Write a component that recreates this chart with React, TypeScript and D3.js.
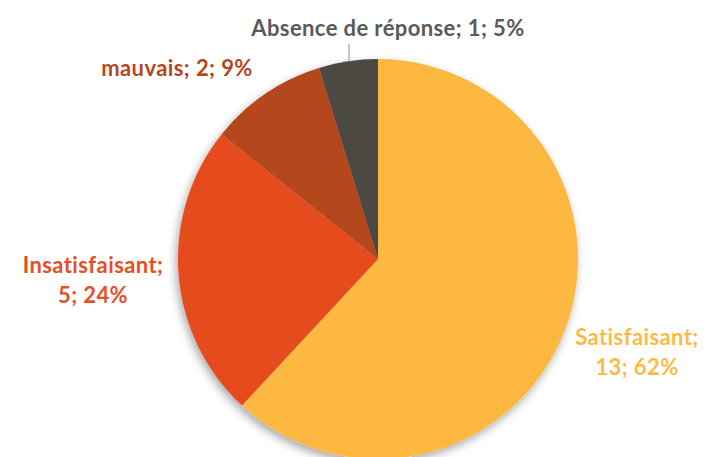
import React from "react";
import * as d3 from "d3";

const categories = ["Satisfaisant", "Insatisfaisant", "mauvais", "Absence de réponse"];
const values = [13, 5, 2, 1];
const percents = ["62%", "24%", "9%", "5%"];
const sliceColors = ["#FDB843", "#E54B1F", "#B5461F", "#4B4842"];
const labelColors = ["#FDBA45", "#E84E24", "#B5461F", "#5A5A5A"];

export default function App() {
  const W = 709, H = 457;
  const cx = 378, cy = 259, r = 200;
  const pie = d3.pie<number>().sort(null).value((d) => d);
  const arcs = pie(values);
  const arc = d3.arc<d3.PieArcDatum<number>>().innerRadius(0).outerRadius(r);
  const font = "Lato, 'Open Sans', sans-serif";
  const fs = 22;
  return (
    <svg width={W} height={H} style={{ position: "absolute", left: 0, top: 0 }}>
      <defs>
        <filter id="sh" x="-20%" y="-20%" width="140%" height="140%">
          <feGaussianBlur in="SourceAlpha" stdDeviation="5" />
          <feOffset dx="-2" dy="4" result="b" />
          <feComponentTransfer>
            <feFuncA type="linear" slope="0.35" />
          </feComponentTransfer>
          <feMerge>
            <feMergeNode />
            <feMergeNode in="SourceGraphic" />
          </feMerge>
        </filter>
      </defs>
      <rect width={W} height={H} fill="#fff" />
      <g transform={`translate(${cx},${cy})`} filter="url(#sh)">
        {arcs.map((a, i) => (
          <path key={i} d={arc(a) || ""} fill={sliceColors[i]} />
        ))}
      </g>
      <line x1={349} y1={44} x2={349} y2={62} stroke="#8a8a8a" strokeWidth={1} />
      <g fontFamily={font} fontWeight="bold" fontSize={fs} letterSpacing={0.4} style={{ fontVariantLigatures: "none" }}>
        <text x={388} y={36} textAnchor="middle" fill={labelColors[3]}>
          {`${categories[3]}; ${values[3]}; ${percents[3]}`}
        </text>
        <text x={177} y={76} textAnchor="middle" fill={labelColors[2]}>
          {`${categories[2]}; ${values[2]}; ${percents[2]}`}
        </text>
        <text x={93} y={273} textAnchor="middle" fill={labelColors[1]}>
          <tspan x={93}>{`${categories[1]};`}</tspan>
          <tspan x={93} dy={30}>{`${values[1]}; ${percents[1]}`}</tspan>
        </text>
        <text x={637} y={345} textAnchor="middle" fill={labelColors[0]}>
          <tspan x={637}>{`${categories[0]};`}</tspan>
          <tspan x={637} dy={30}>{`${values[0]}; ${percents[0]}`}</tspan>
        </text>
      </g>
    </svg>
  );
}
